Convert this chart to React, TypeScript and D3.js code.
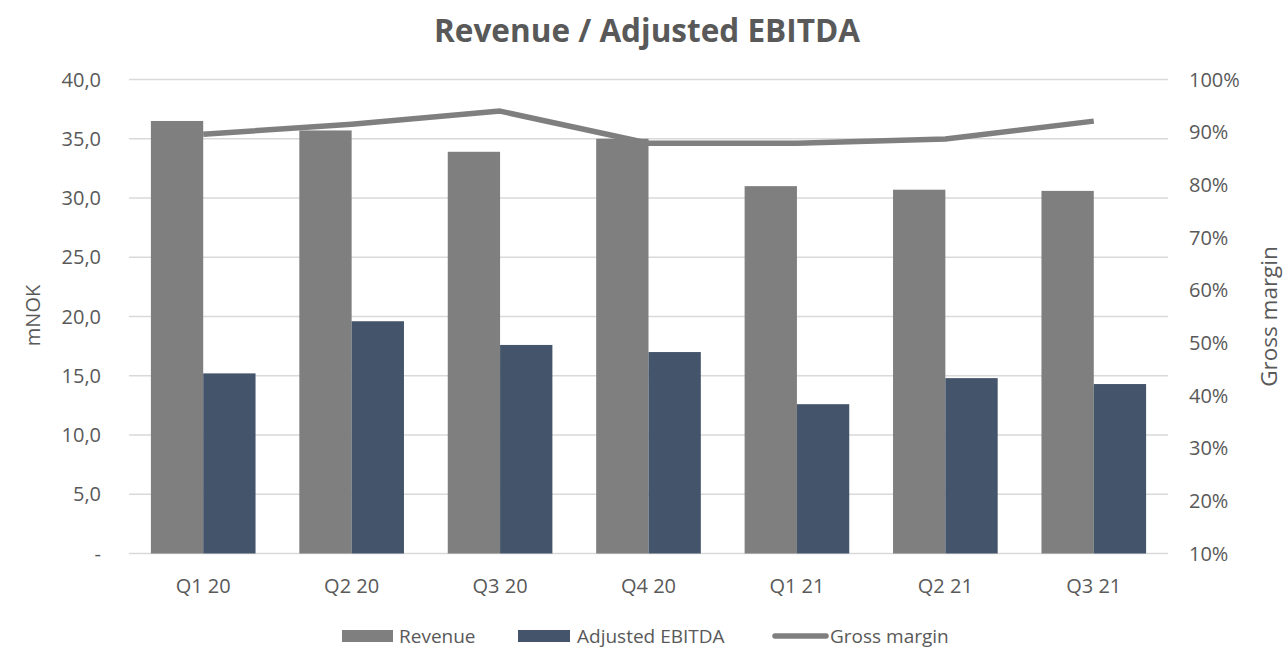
import React, { useEffect, useRef } from "react";
import * as d3 from "d3";

const quarters = ["Q1 20", "Q2 20", "Q3 20", "Q4 20", "Q1 21", "Q2 21", "Q3 21"];
const revenue = [36.5, 35.7, 33.9, 35.0, 31.0, 30.7, 30.6];
const ebitda = [15.2, 19.6, 17.6, 17.0, 12.6, 14.8, 14.3];
const grossMargin = [0.896, 0.915, 0.94, 0.879, 0.879, 0.887, 0.921];
const leftTicks = [0, 5, 10, 15, 20, 25, 30, 35, 40];
const rightTicks = [0.1, 0.2, 0.3, 0.4, 0.5, 0.6, 0.7, 0.8, 0.9, 1.0];

const W = 1283;
const H = 650;
const FONT = "Open Sans, sans-serif";

export default function App() {
  const ref = useRef<SVGSVGElement>(null);

  useEffect(() => {
    const svg = d3.select(ref.current);
    svg.selectAll("*").remove();

    const left = 129, right = 1168, top = 79.5, bottom = 553.5;
    const textCol = "#595959";

    const x = d3.scaleBand().domain(quarters).range([left, right]).paddingInner(0.295).paddingOuter(0.1475);
    const y = d3.scaleLinear().domain([0, 40]).range([bottom, top]);
    const y2 = d3.scaleLinear().domain([0.1, 1.0]).range([bottom, top]);
    const bw = x.bandwidth() / 2;

    // title
    svg.append("text")
      .attr("x", 647).attr("y", 42)
      .attr("text-anchor", "middle")
      .attr("font-family", FONT).attr("font-weight", "bold").attr("font-size", 31.5)
      .attr("fill", textCol)
      .text("Revenue / Adjusted EBITDA");

    // grid
    svg.append("g").selectAll("line").data(leftTicks).enter().append("line")
      .attr("x1", left).attr("x2", right)
      .attr("y1", d => y(d)).attr("y2", d => y(d))
      .attr("stroke", "#d9d9d9").attr("stroke-width", 1.5);

    // left ticks
    svg.append("g").selectAll("text").data(leftTicks).enter().append("text")
      .attr("x", 101).attr("y", d => y(d)).attr("dy", "0.35em")
      .attr("text-anchor", "end")
      .attr("font-family", FONT).attr("font-size", 20).attr("fill", textCol)
      .text(d => d === 0 ? "-" : d3.format(".1f")(d).replace(".", ","));

    // right ticks
    svg.append("g").selectAll("text").data(rightTicks).enter().append("text")
      .attr("x", 1189).attr("y", d => y2(d)).attr("dy", "0.35em")
      .attr("font-family", FONT).attr("font-size", 20).attr("fill", textCol)
      .text(d => d3.format(".0%")(d));

    // axis titles
    svg.append("text")
      .attr("transform", `translate(40,${(top + bottom) / 2 - 1}) rotate(-90)`)
      .attr("text-anchor", "middle")
      .attr("font-family", FONT).attr("font-size", 20).attr("fill", textCol)
      .text("mNOK");
    svg.append("text")
      .attr("transform", `translate(1277,${(top + bottom) / 2}) rotate(-90)`)
      .attr("text-anchor", "middle")
      .attr("font-family", FONT).attr("font-size", 22.5).attr("fill", textCol)
      .text("Gross margin");

    // bars
    svg.append("g").selectAll("rect").data(revenue).enter().append("rect")
      .attr("x", (d, i) => x(quarters[i])!)
      .attr("y", d => y(d))
      .attr("width", bw).attr("height", d => bottom - y(d))
      .attr("fill", "#7f7f7f");
    svg.append("g").selectAll("rect").data(ebitda).enter().append("rect")
      .attr("x", (d, i) => x(quarters[i])! + bw)
      .attr("y", d => y(d))
      .attr("width", bw).attr("height", d => bottom - y(d))
      .attr("fill", "#44546a");

    // line
    const line = d3.line<number>()
      .x((d, i) => x(quarters[i])! + x.bandwidth() / 2)
      .y(d => y2(d));
    svg.append("path").datum(grossMargin)
      .attr("d", line)
      .attr("fill", "none").attr("stroke", "#7f7f7f").attr("stroke-width", 5.5)
      .attr("stroke-linejoin", "round");

    // x labels
    svg.append("g").selectAll("text").data(quarters).enter().append("text")
      .attr("x", d => x(d)! + x.bandwidth() / 2).attr("y", 593)
      .attr("text-anchor", "middle")
      .attr("font-family", FONT).attr("font-size", 20).attr("fill", textCol)
      .text(d => d);

    // legend
    const ly = 636;
    const lg = svg.append("g").attr("font-family", FONT).attr("font-size", 19).attr("fill", textCol);
    lg.append("rect").attr("x", 342).attr("y", ly - 6).attr("width", 51).attr("height", 12).attr("fill", "#7f7f7f");
    lg.append("text").attr("x", 399).attr("y", ly).attr("dy", "0.35em").text("Revenue");
    lg.append("rect").attr("x", 518).attr("y", ly - 6).attr("width", 52).attr("height", 12).attr("fill", "#44546a");
    lg.append("text").attr("x", 577).attr("y", ly).attr("dy", "0.35em").text("Adjusted EBITDA");
    lg.append("line").attr("x1", 775).attr("x2", 826).attr("y1", ly).attr("y2", ly)
      .attr("stroke", "#7f7f7f").attr("stroke-width", 5.5).attr("stroke-linecap", "round");
    lg.append("text").attr("x", 830).attr("y", ly).attr("dy", "0.35em").text("Gross margin");
  }, []);

  return <svg ref={ref} width={W} height={H} style={{ display: "block", position: "absolute", left: 0, top: 0 }} />;
}
